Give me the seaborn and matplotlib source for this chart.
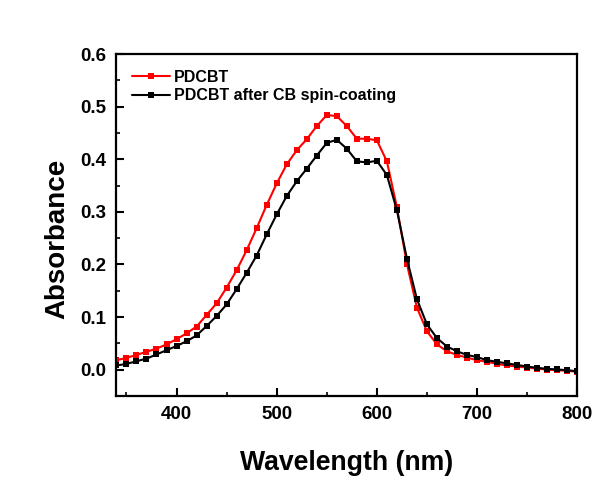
import numpy as np
import matplotlib
matplotlib.use("Agg")
import matplotlib.pyplot as plt
import pandas as pd
import seaborn as sns
from matplotlib.ticker import MultipleLocator

# wavelength grid (nm) and absorbance
wavelength = list(range(340, 810, 10))
pdcbt = [0.018, 0.0225, 0.028, 0.034, 0.040, 0.048, 0.058, 0.069, 0.082, 0.104,
         0.126, 0.156, 0.189, 0.227, 0.269, 0.313, 0.354, 0.390, 0.417, 0.438,
         0.463, 0.484, 0.482, 0.463, 0.439, 0.439, 0.436, 0.396, 0.309, 0.201,
         0.118, 0.073, 0.048, 0.035, 0.028, 0.023, 0.018, 0.015, 0.011, 0.008,
         0.006, 0.004, 0.002, 0.000, -0.001, -0.002, -0.004]
pdcbt_cb = [0.008, 0.011, 0.016, 0.021, 0.029, 0.037, 0.045, 0.054, 0.065, 0.083,
            0.102, 0.124, 0.153, 0.184, 0.217, 0.257, 0.295, 0.330, 0.358, 0.382,
            0.407, 0.431, 0.437, 0.420, 0.396, 0.394, 0.397, 0.370, 0.303, 0.211,
            0.134, 0.086, 0.060, 0.044, 0.035, 0.028, 0.024, 0.018, 0.015, 0.012,
            0.009, 0.006, 0.0035, 0.0016, 0.0004, -0.001, -0.003]

df = pd.DataFrame({"wl": wavelength, "PDCBT": pdcbt, "PDCBT after CB spin-coating": pdcbt_cb})

sns.set_style("white")
plt.rcParams['font.family'] = ['Liberation Sans', 'DejaVu Sans']
plt.rcParams['font.weight'] = 'bold'
plt.rcParams['text.color'] = 'black'
plt.rcParams['axes.labelcolor'] = 'black'
plt.rcParams['xtick.color'] = 'black'
plt.rcParams['ytick.color'] = 'black'
plt.rcParams['xtick.direction'] = 'in'
plt.rcParams['ytick.direction'] = 'in'

fig = plt.figure(figsize=(6.16, 4.91), dpi=100)
ax = fig.add_axes([0.189, 0.1935, 0.748, 0.6965])

sns.lineplot(data=df, x="wl", y="PDCBT", ax=ax, color="#ff0000", marker="s",
             markersize=5, markeredgewidth=0, linewidth=1.5, label="PDCBT")
sns.lineplot(data=df, x="wl", y="PDCBT after CB spin-coating", ax=ax, color="black",
             marker="s", markersize=5, markeredgewidth=0, linewidth=1.5,
             label="PDCBT after CB spin-coating")

ax.set_xlim(340, 800)
ax.set_ylim(-0.05, 0.6)
ax.xaxis.set_major_locator(MultipleLocator(100))
ax.xaxis.set_minor_locator(MultipleLocator(50))
ax.yaxis.set_minor_locator(MultipleLocator(0.05))
ax.set_yticks([0.0, 0.1, 0.2, 0.3, 0.4, 0.5, 0.6])
ax.set_yticklabels(["0.0", "0.1", "0.2", "0.3", "0.4", "0.5", "0.6"])
ax.tick_params(which="major", length=6, width=1.5, labelsize=13.5, pad=7,
               bottom=True, left=True, top=False, right=False)
ax.tick_params(which="minor", length=3, width=1.2, bottom=True, left=True, top=False, right=False)
for lbl in ax.get_xticklabels() + ax.get_yticklabels():
    lbl.set_fontweight("bold")

for s in ax.spines.values():
    s.set_linewidth(1.6)
    s.set_color("black")

ax.set_xlabel("Wavelength (nm)", fontsize=19.2, fontweight="bold", labelpad=20)
ax.set_ylabel("Absorbance", fontsize=20, fontweight="bold", labelpad=8)
ax.yaxis.set_label_coords(-0.10, 0.46)

ax.legend(loc="upper left", frameon=False, handlelength=2.35,
          handletextpad=0.25, labelspacing=0.2, borderaxespad=0.6, markerscale=0.8,
          prop={"weight": "bold", "size": 11.5})

fig.savefig("out.png", dpi=100)
